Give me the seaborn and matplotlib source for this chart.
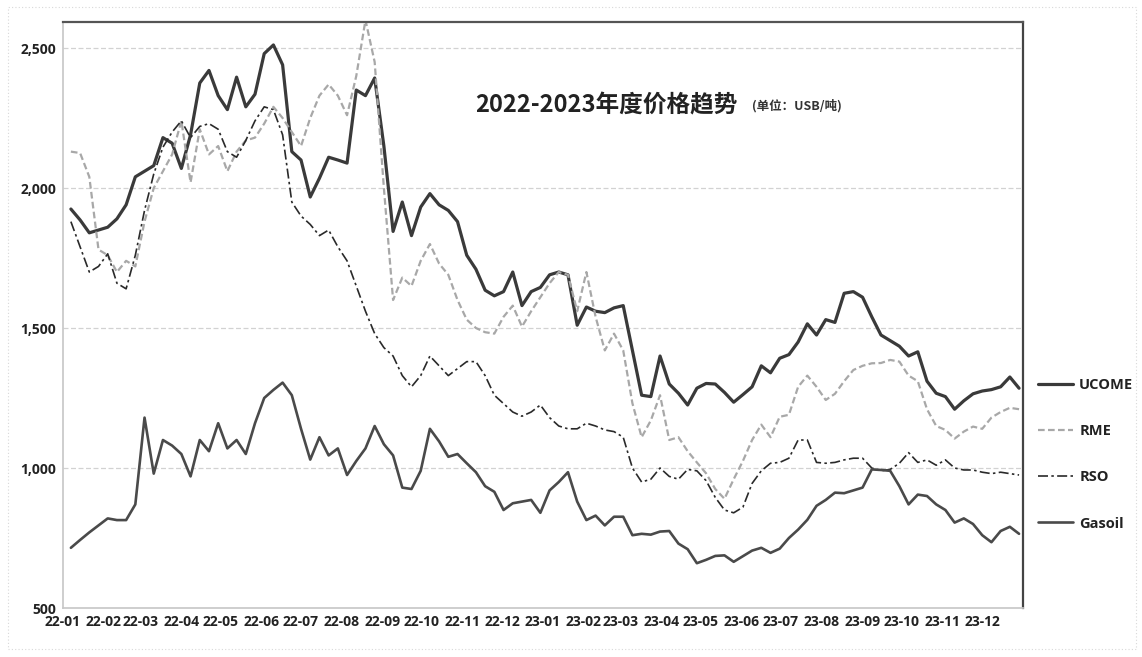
import numpy as np
import pandas as pd
import matplotlib
matplotlib.use("Agg")
import matplotlib.pyplot as plt
import matplotlib.dates as mdates
import seaborn as sns

# ---------------- data (weekly readings, USD/t) ----------------
dates = pd.date_range("2022-01-07", periods=104, freq="7D")

ucome = [1925, 1886, 1840, 1850, 1860, 1890, 1940, 2040, 2060, 2080,
         2180, 2160, 2070, 2190, 2375, 2420, 2330, 2280, 2396, 2290,
         2335, 2480, 2511, 2440, 2130, 2100, 1968, 2035, 2110, 2100,
         2089, 2350, 2330, 2393, 2150, 1845, 1950, 1830, 1932, 1980,
         1940, 1920, 1880, 1760, 1710, 1635, 1615, 1630, 1700, 1580,
         1630, 1645, 1690, 1700, 1690, 1510, 1575, 1560, 1555, 1572,
         1580, 1420, 1260, 1255, 1400, 1300, 1267, 1225, 1285, 1302,
         1300, 1270, 1235, 1262, 1290, 1365, 1340, 1392, 1405, 1450,
         1515, 1475, 1530, 1520, 1624, 1630, 1610, 1540, 1475, 1455,
         1435, 1400, 1415, 1310, 1267, 1255, 1210, 1240, 1265, 1275,
         1280, 1290, 1325, 1285]

rme = [2130, 2125, 2040, 1780, 1760, 1700, 1740, 1720, 1880, 2000,
       2060, 2120, 2240, 2020, 2210, 2120, 2150, 2060, 2130, 2170,
       2180, 2230, 2290, 2250, 2200, 2150, 2250, 2330, 2370, 2330,
       2260, 2400, 2600, 2450, 2000, 1600, 1680, 1650, 1740, 1800,
       1730, 1690, 1600, 1530, 1500, 1485, 1480, 1540, 1580, 1505,
       1560, 1610, 1660, 1700, 1690, 1560, 1700, 1540, 1420, 1480,
       1420, 1231, 1110, 1170, 1260, 1100, 1110, 1060, 1020, 981,
       925, 890, 960, 1025, 1100, 1155, 1110, 1183, 1190, 1290,
       1330, 1290, 1243, 1265, 1310, 1350, 1365, 1374, 1375, 1386,
       1380, 1330, 1310, 1210, 1150, 1136, 1105, 1130, 1148, 1140,
       1180, 1200, 1215, 1210]

rso = [1880, 1790, 1700, 1720, 1765, 1660, 1640, 1760, 1920, 2050,
       2146, 2200, 2240, 2180, 2220, 2230, 2210, 2130, 2110, 2170,
       2240, 2290, 2280, 2190, 1950, 1900, 1870, 1830, 1850, 1790,
       1740, 1650, 1560, 1480, 1430, 1400, 1330, 1290, 1330, 1400,
       1365, 1330, 1355, 1380, 1380, 1330, 1260, 1230, 1200, 1185,
       1200, 1225, 1180, 1150, 1140, 1140, 1160, 1150, 1136, 1130,
       1110, 1000, 950, 960, 1000, 970, 960, 995, 990, 955,
       895, 850, 840, 860, 945, 990, 1017, 1020, 1035, 1100,
       1100, 1020, 1017, 1020, 1029, 1035, 1035, 1000, 990, 995,
       1017, 1055, 1020, 1029, 1010, 1029, 1000, 993, 993, 985,
       980, 985, 980, 975]

gasoil = [715, 743, 770, 795, 820, 814, 814, 870, 1180, 980,
          1100, 1080, 1050, 970, 1100, 1060, 1160, 1070, 1100, 1050,
          1160, 1250, 1279, 1305, 1260, 1140, 1030, 1110, 1045, 1070,
          975, 1025, 1070, 1150, 1085, 1045, 930, 925, 990, 1140,
          1095, 1040, 1050, 1017, 985, 935, 915, 850, 874, 880,
          886, 840, 920, 950, 985, 880, 814, 830, 795, 826,
          826, 760, 765, 762, 773, 775, 730, 710, 660, 672,
          686, 688, 665, 685, 705, 715, 697, 712, 750, 780,
          815, 865, 886, 912, 910, 920, 930, 995, 993, 990,
          935, 870, 905, 900, 870, 850, 805, 820, 800, 760,
          735, 775, 790, 765]

series_names = ["UCOME", "RME", "RSO", "Gasoil"]
y_ticks = [500, 1000, 1500, 2000, 2500]
month_ticks = pd.date_range("2022-01-01", "2023-12-01", freq="MS")
title_main = "2022-2023年度价格趋势"
title_unit = "(单位：USB/吨)"

df = pd.DataFrame({"date": dates, "UCOME": ucome, "RME": rme,
                   "RSO": rso, "Gasoil": gasoil})

# ---------------- styling ----------------
sns.set_theme(style="white")
plt.rcParams["font.family"] = ["Open Sans", "Noto Sans CJK SC", "DejaVu Sans"]

W, H = 1142, 657
fig = plt.figure(figsize=(W / 100, H / 100), dpi=100)
ax = fig.add_axes([63 / W, 1 - 608 / H, 960 / W, 586 / H])

styles = {
    "UCOME": dict(color="#3a3a3a", lw=2.3, ls="-"),
    "RME": dict(color="#a8a8a8", lw=1.6, ls=(0, (3, 1.5))),
    "RSO": dict(color="#2a2a2a", lw=1.2, ls=(0, (6, 2, 1.5, 2))),
    "Gasoil": dict(color="#4a4a4a", lw=1.9, ls="-"),
}

for name in series_names:
    st = styles[name]
    sns.lineplot(data=df, x="date", y=name, ax=ax, color=st["color"],
                 linewidth=st["lw"], linestyle=st["ls"], label=name)

ax.set_xlim(pd.Timestamp("2022-01-01"), pd.Timestamp("2024-01-01"))
ax.set_ylim(500, 2593)
ax.set_yticks(y_ticks)
ax.set_yticklabels([f"{v:,}" for v in y_ticks], fontsize=10,
                   fontweight="bold", color="#222222")
ax.set_xticks(month_ticks)
ax.set_xticklabels([d.strftime("%y-%m") for d in month_ticks], fontsize=10,
                   fontweight="bold", color="#222222")
ax.set_xlabel("")
ax.set_ylabel("")
ax.tick_params(axis="x", length=2, color="#bbbbbb", pad=3)
ax.tick_params(axis="y", length=0, pad=5)

for v in y_ticks[1:]:
    ax.axhline(v, color="#d2d2d2", lw=0.9, ls=(0, (4, 2)), zorder=0)

ax.spines["left"].set_color("#c8c8c8")
ax.spines["bottom"].set_color("#c8c8c8")
ax.spines["top"].set_color("#555555")
ax.spines["top"].set_linewidth(1.6)
ax.spines["right"].set_color("#444444")
ax.spines["right"].set_linewidth(1.6)

leg = ax.legend(loc="upper left", bbox_to_anchor=(1.016, 0.392),
                frameon=False, fontsize=10.5, labelspacing=2.2,
                handlelength=2.4, handletextpad=0.4, borderpad=0,
                borderaxespad=0)
for t in leg.get_texts():
    t.set_fontweight("bold")
    t.set_color("#222222")

fig.text(475 / W, 1 - 105 / H, title_main, fontsize=17, fontweight="bold",
         ha="left", va="center", color="#222222",
         family=["Noto Sans CJK SC", "DejaVu Sans"])
fig.text(752 / W, 1 - 106 / H, title_unit, fontsize=9, fontweight="bold",
         ha="left", va="center", color="#333333",
         family=["Noto Sans CJK SC", "DejaVu Sans"])

# faint scanned outer border
fig.add_artist(plt.Rectangle((8 / W, 8 / H), 1128 / W, 642 / H,
                             transform=fig.transFigure, fill=False,
                             ec="#d8d8d8", lw=0.8, ls=(0, (1, 2))))

fig.savefig("out.png", dpi=100)
